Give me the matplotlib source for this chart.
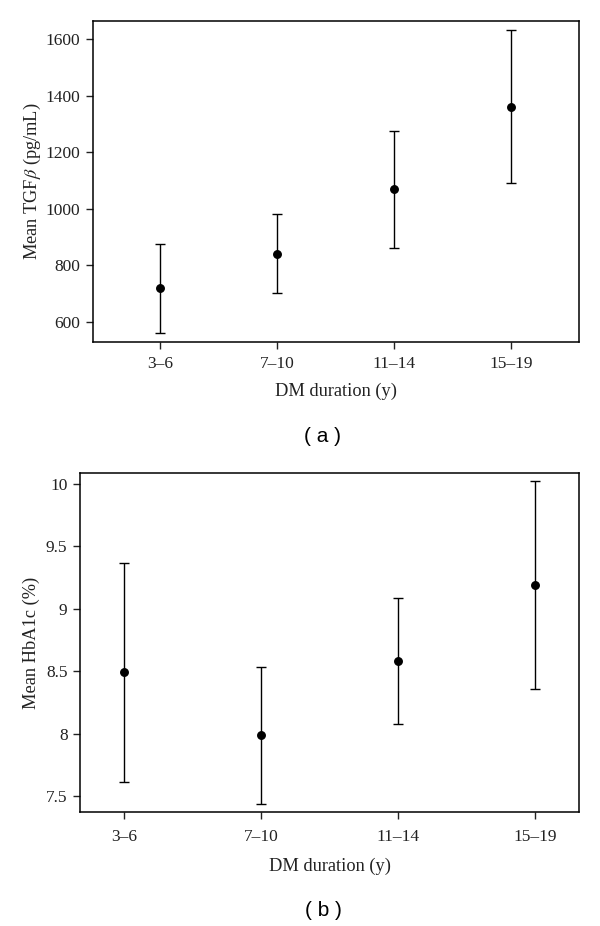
import matplotlib
matplotlib.use("Agg")
import matplotlib.pyplot as plt

categories = ["3–6", "7–10", "11–14", "15–19"]

tgf_mean = [720, 840, 1069, 1361]
tgf_upper = [876, 980, 1274, 1633]
tgf_lower = [561, 702, 863, 1090]
tgf_ticks = [600, 800, 1000, 1200, 1400, 1600]

hba_mean = [8.49, 7.99, 8.585, 9.19]
hba_upper = [9.37, 8.53, 9.09, 10.02]
hba_lower = [7.61, 7.44, 8.08, 8.36]
hba_ticks = [7.5, 8, 8.5, 9, 9.5, 10]
hba_ticklabels = ["7.5", "8", "8.5", "9", "9.5", "10"]

plt.rcParams['font.family'] = ['Liberation Serif', 'DejaVu Serif']
plt.rcParams['mathtext.fontset'] = 'stix'
W, H = 600, 926
fig = plt.figure(figsize=(W / 100, H / 100), dpi=100)


def px_axes(l, t, r, b):
    return fig.add_axes([l / W, 1 - b / H, (r - l) / W, (b - t) / H])


def panel(ax, mean, up, lo, ticks, ticklabels, xlim, ylim, ylabel,
          xpad, xlabelpad, ylabelpad):
    x = list(range(1, len(categories) + 1))
    yerr = [[m - l for m, l in zip(mean, lo)], [u - m for m, u in zip(mean, up)]]
    ax.errorbar(x, mean, yerr=yerr, fmt='o', color='black', ms=5.4,
                elinewidth=1.0, capsize=3.8, capthick=1.0)
    ax.set_xlim(*xlim)
    ax.set_ylim(*ylim)
    ax.set_xticks(x)
    ax.set_xticklabels(categories, fontsize=12.5)
    ax.set_yticks(ticks)
    ax.set_yticklabels(ticklabels, fontsize=12.5)
    ax.tick_params(direction='out', length=5, width=1.0, pad=4, colors='#222222')
    ax.tick_params(axis='x', pad=xpad)
    for s in ax.spines.values():
        s.set_linewidth(1.1)
    ax.set_xlabel("DM duration (y)", fontsize=13.2, labelpad=xlabelpad, color='#222222')
    ax.set_ylabel(ylabel, fontsize=13.2, labelpad=ylabelpad, color='#222222')


ax1 = px_axes(93, 21, 579, 342)
panel(ax1, tgf_mean, tgf_upper, tgf_lower, tgf_ticks, [str(t) for t in tgf_ticks],
      (0.427, 4.58), (529, 1664), r"Mean TGF$\beta$ (pg/mL)", 5, 8, 2)

ax2 = px_axes(80, 472.7, 579, 812.3)
panel(ax2, hba_mean, hba_upper, hba_lower, hba_ticks, hba_ticklabels,
      (0.68, 4.32), (7.37, 10.09), "Mean HbA1c (%)", 7, 9, 4)

fig.text(323 / W, 1 - 437 / H, "( a )", ha='center', va='center',
         fontsize=15, family=['Liberation Sans', 'DejaVu Sans'])
fig.text(323 / W, 1 - 910 / H, "( b )", ha='center', va='center',
         fontsize=15, family=['Liberation Sans', 'DejaVu Sans'])

fig.savefig("out.png", dpi=100)
